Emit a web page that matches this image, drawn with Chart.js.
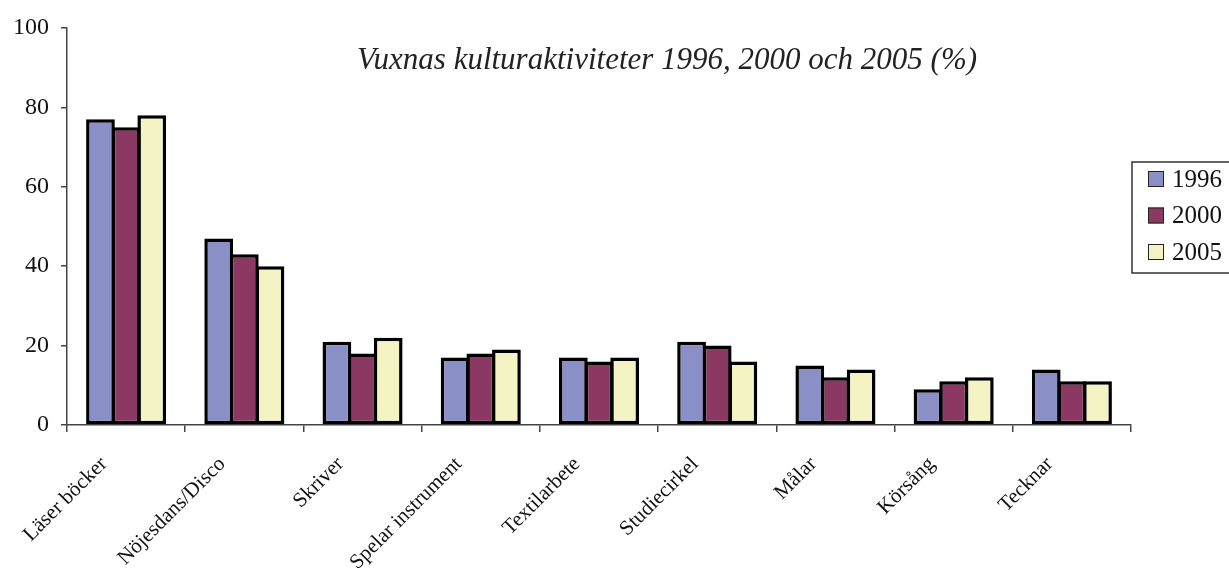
<!DOCTYPE html>
<html>
<head>
<meta charset="utf-8">
<script src="https://cdn.jsdelivr.net/npm/chart.js@4.4.1/dist/chart.umd.min.js"></script>
<style>
html,body{margin:0;padding:0;background:#fff;}
#wrap{width:1229px;height:568px;position:relative;}
</style>
</head>
<body>
<div id="wrap"><canvas id="c" width="1229" height="568"></canvas></div>
<script>
const categories = ["Läser böcker","Nöjesdans/Disco","Skriver","Spelar instrument","Textilarbete","Studiecirkel","Målar","Körsång","Tecknar"];
const values1996 = [77,47,21,17,17,21,15,9,14];
const values2000 = [75,43,18,18,16,20,12,11,11];
const values2005 = [78,40,22,19,17,16,14,12,11];
const seriesLabels = ["1996","2000","2005"];
const yTicks = [0,20,40,60,80,100];
const titleText = "Vuxnas kulturaktiviteter 1996, 2000 och 2005 (%)";

const colors = ["#8A8FC6","#8B3863","#F3F3C4"];
const SERIF = "'Liberation Serif','Times New Roman',serif";

const titlePlugin = {
  id:'customTitle',
  afterDraw(chart){
    const ctx = chart.ctx;
    ctx.save();
    ctx.font = "italic 31px " + SERIF;
    ctx.fillStyle = "#222";
    ctx.textAlign = "center";
    ctx.textBaseline = "alphabetic";
    ctx.fillText(titleText, 667, 69);
    ctx.restore();
  }
};

const legendPlugin = {
  id:'customLegend',
  afterDraw(chart){
    const ctx = chart.ctx;
    ctx.save();
    const left = 1132, top = 162, bottom = 273;
    ctx.strokeStyle = "#333";
    ctx.lineWidth = 1.5;
    ctx.strokeRect(left, top, 120, bottom - top);
    ctx.font = "25px " + SERIF;
    ctx.textBaseline = "middle";
    ctx.textAlign = "left";
    chart.data.datasets.forEach((ds, i) => {
      const cy = 179 + i * 36.5;
      ctx.fillStyle = ds.backgroundColor;
      ctx.fillRect(1148, cy - 8, 16, 16);
      ctx.strokeStyle = "#222";
      ctx.lineWidth = 1;
      ctx.strokeRect(1148.5, cy - 7.5, 15, 15);
      ctx.fillStyle = "#111";
      ctx.fillText(ds.label, 1172, cy + 1);
    });
    ctx.restore();
  }
};

const datasets = [values1996, values2000, values2005].map((vals, i) => ({
  label: seriesLabels[i],
  data: vals,
  backgroundColor: colors[i],
  borderColor: "#000",
  borderWidth: 3.5,
  borderSkipped: false,
  categoryPercentage: 0.651,
  barPercentage: 1.12
}));

new Chart(document.getElementById('c'), {
  type: 'bar',
  data: { labels: categories, datasets },
  plugins: [titlePlugin, legendPlugin],
  options: {
    responsive: false,
    animation: false,
    layout: { padding: { top: 28, right: 98, left: 0, bottom: 0 } },
    plugins: { legend: { display: false }, title: { display: false }, tooltip: { enabled: false } },
    scales: {
      x: {
        offset: true,
        grid: { display: true, offset: true, drawOnChartArea: false, drawTicks: true, tickLength: 7, color: "#444", lineWidth: 1.5 },
        border: { display: true, color: "#444", width: 1.5 },
        ticks: {
          autoSkip: false, maxRotation: 45, minRotation: 45,
          font: { family: SERIF, size: 21 }, color: "#111", padding: 20, labelOffset: -22
        },
        afterFit(s){ s.height = 143; }
      },
      y: {
        min: 0, max: 100,
        afterBuildTicks(s){ s.ticks = yTicks.map(v => ({ value: v })); },
        grid: { display: true, drawOnChartArea: false, drawTicks: true, tickLength: 6, color: "#444", lineWidth: 1.5 },
        border: { display: true, color: "#444", width: 1.5 },
        ticks: { font: { family: SERIF, size: 24 }, color: "#111", padding: 12 },
        afterFit(s){ s.width = 67; }
      }
    }
  }
});
</script>
</body>
</html>
